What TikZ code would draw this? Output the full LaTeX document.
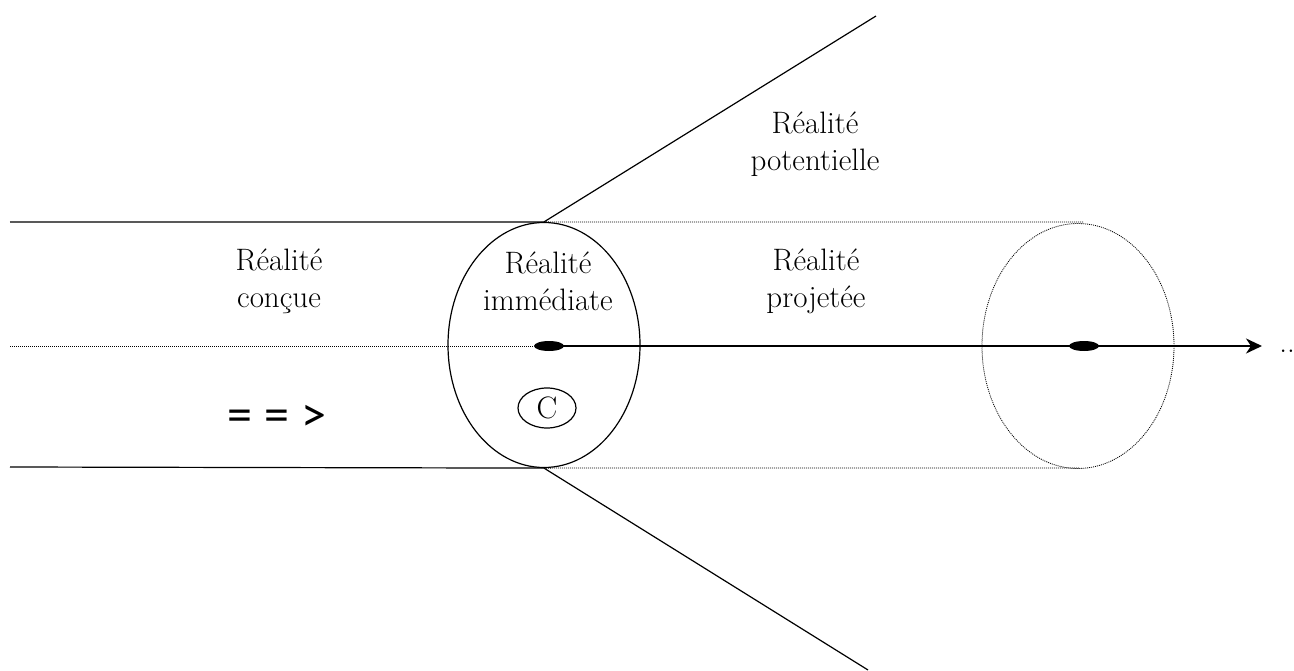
\documentclass[tikz,border=0pt]{standalone}
\usepackage{fontspec}
\newfontfamily\carlito{Carlito}
\usetikzlibrary{shapes.geometric, arrows.meta}

\begin{document}
\begin{tikzpicture}[
                    x=1pt, y=-1pt,
                    line width=1.2pt,
                    dot/.style={ellipse, fill=black, inner sep=0pt, minimum width=30pt, minimum height=10pt},
                    zone/.style={ellipse, draw, inner sep=0pt, minimum width=192pt, minimum height=245pt},
                    txt/.style={align=center, font=\fontsize{31}{37}\selectfont},
                    faint/.style={line width=0.8pt, dash pattern=on 1pt off 1pt}
                ]
                \useasboundingbox (0,0) rectangle (1294,671);

                \node[zone] (now) at (544,345) {};
                \node[zone, faint] (later) at (1078,346) {};
                \node[ellipse, draw, inner sep=0pt, minimum width=58pt, minimum height=40pt] (c) at (547,408) {};
                \node[txt] at (c) {C};

                \node[dot] (p1) at (549,346) {};
                \node[dot] (p2) at (1084,346) {};

                \node[txt] (concue) at (279,281) {Réalité\\conçue};
                \node[txt] (immediate) at (548,281) {Réalité\\immédiate};
                \node[txt] (projetee) at (816,281) {Réalité\\projetée};
                \node[txt] (potentielle) at (815,144) {Réalité\\potentielle};
                \node[font=\carlito\fontsize{50}{54}\selectfont] (sens) at (277,418) {=\hspace{12pt}=\hspace{12pt}>};
                \node[txt] (suite) at (1287,351) {..};

                \coordinate (tl) at (10,222);
                \coordinate (bl) at (10,467);
                \coordinate (ml) at (10,346);
                \coordinate (tr) at (1083,222);
                \coordinate (br) at (1080,468);
                \coordinate (up) at (876,16);
                \coordinate (down) at (868,670);
                \coordinate (tip) at (1262,346);

                \draw (tl) -- (now.north);
                \draw (bl) -- (now.south);
                \draw[faint] (now.north) -- (tr);
                \draw[faint] (now.south) -- (br);
                \draw[faint] (ml) -- (p1);
                \draw (now.north) -- (up);
                \draw (now.south) -- (down);
                \draw[line width=2.2pt, -{Stealth[length=16pt, width=15pt, inset=5pt]}] (p1.center) -- (tip);

            \end{tikzpicture}
\end{document}
